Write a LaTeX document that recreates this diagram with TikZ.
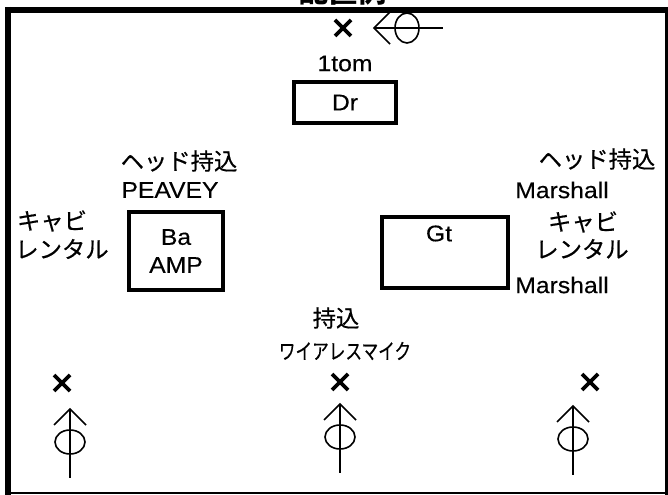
\documentclass[tikz,border=0pt]{standalone}
\usepackage{fontspec}
\usepackage{graphicx}
\setmainfont{Liberation Sans}
\newfontfamily\jp[FakeBold=0.5]{Noto Sans CJK JP}
\newfontfamily\jpb{Noto Sans CJK JP}
\newfontfamily\lat[FakeStretch=1.09,FakeBold=0.3]{Liberation Sans}
\begin{document}
\begin{tikzpicture}[x=0.75pt,y=-0.75pt,
  lab/.style={inner sep=0pt, font=\lat\fontsize{17}{20}\selectfont},
  jlab/.style={inner sep=0pt, font=\jp\fontsize{17.5}{20}\selectfont},
  box/.style={draw, line width=3pt, inner sep=0pt},
  micline/.style={line width=1.2pt},
  xmark/.style={line width=2.8pt},
  mic/.pic={
    \draw[micline] (0,-33) -- (0,36);
    \draw[micline] (-16,-17) -- (0,-33) -- (16,-17);
    \draw[micline] (0,0) ellipse [x radius=15, y radius=12];
  },
  cross/.pic={
    \draw[xmark] (-8,-8) -- (8,8) (-8,8) -- (8,-8);
  }]
\useasboundingbox (0,0) rectangle (668,495);
\clip (0,0) rectangle (668,495);
% frame
\draw[line width=4.5pt] (8,7) -- (8,495);
\draw[line width=4.3pt] (5,10) -- (668,10);
\draw[line width=2.2pt] (666.5,7) -- (666.5,495);
\draw[line width=1.6pt] (8,493) -- (668,493);
% title (cut off at top in the reference)
\node[inner sep=0pt, anchor=base, font=\jpb\bfseries\fontsize{22}{22}\selectfont] (title) at (343,3) {配置例};
% top: cross and mic
\pic at (343,28) {cross};
\pic[rotate=90] at (407,28) {mic};
% drums
\node[lab] (tom) at (345,63.5) {1tom};
\node[box, minimum width=76.5pt, minimum height=30.75pt, font=\lat\fontsize{17}{20}\selectfont] (dr) at (345,102.5) {Dr};
% bass
\node[jlab] (bhead) at (179,161) {ヘッド持込};
\node[lab] (peavey) at (170,190) {PEAVEY};
\node[jlab] (bcab1) at (52,221) {キャビ};
\node[jlab] (bcab2) at (62,249) {レンタル};
\node[box, minimum width=70.5pt, minimum height=58.5pt, align=center, font=\lat\fontsize{17}{20}\selectfont] (ba) at (176,251) {Ba\\[1pt]AMP};
% guitar
\node[box, minimum width=94.5pt, minimum height=53.25pt] (gt) at (445,252.5) {};
\node[lab] (gtt) at (439,233.5) {Gt};
\node[jlab] (ghead) at (597,159) {ヘッド持込};
\node[lab] (marsh1) at (562,190) {Marshall};
\node[jlab] (gcab1) at (583,222) {キャビ};
\node[jlab] (gcab2) at (582,249) {レンタル};
\node[lab] (marsh2) at (562,285) {Marshall};
% vocal
\node[jlab] (mochi) at (336,318) {持込};
\node[inner sep=0pt, font=\jp\fontsize{16}{18}\selectfont] (wl) at (345,351) {\scalebox{0.78}[1]{ワイアレスマイク}};
% bottom crosses and mics
\pic at (62,383) {cross};
\pic at (340,382) {cross};
\pic at (590,382) {cross};
\pic at (70,442) {mic};
\pic at (340,437) {mic};
\pic at (573,439) {mic};
\end{tikzpicture}
\end{document}
